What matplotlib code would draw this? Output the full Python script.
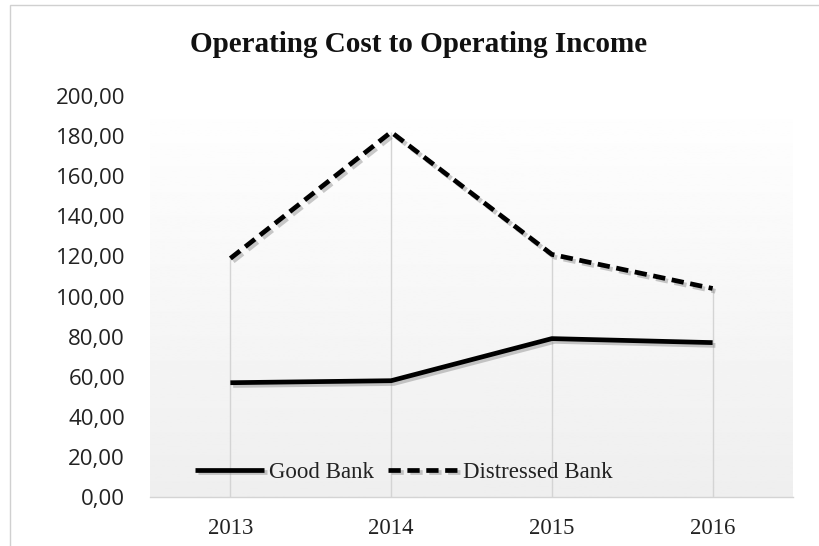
import numpy as np
import matplotlib
matplotlib.use('Agg')
import matplotlib.pyplot as plt
import matplotlib.patheffects as pe
from matplotlib.patches import Rectangle

# values
years = ['2013', '2014', '2015', '2016']
good_bank = [57.0, 58.0, 79.0, 77.0]
distressed_bank = [119.0, 182.0, 121.0, 104.0]
yticks = [0, 20, 40, 60, 80, 100, 120, 140, 160, 180, 200]

fig = plt.figure(figsize=(8.19, 5.46), dpi=100)
ax = fig.add_axes([150/819, 1-497/546, 643/819, 401/546])

x = np.arange(len(years))

# light grey gradient in the plot area
grad = np.linspace(1.0, 0.935, 256).reshape(-1, 1)
ax.imshow(grad, extent=(-0.5, 3.5, 0, 200), cmap='gray', vmin=0, vmax=1,
          aspect='auto', origin='upper', zorder=0)

# drop lines
tops = np.maximum(good_bank, distressed_bank)
ax.vlines(x, 0, tops, color='#d4d4d4', lw=1, zorder=1)

shadow = [pe.SimpleLineShadow(offset=(2, -2), shadow_color='#888888', alpha=0.45),
          pe.Normal()]
ax.plot(x, good_bank, color='black', lw=3.4, label='Good Bank',
        solid_capstyle='butt', path_effects=shadow, zorder=3)
ax.plot(x, distressed_bank, color='black', lw=3.4, dashes=(2.6, 1.4),
        label='Distressed Bank', path_effects=shadow, zorder=3)

ax.set_xlim(-0.5, 3.5)
ax.set_ylim(0, 200)
ax.set_xticks(x)
ax.set_xticklabels(years, family='Liberation Serif', fontsize=16.5, color='#222222')
ax.set_yticks(yticks)
ax.set_yticklabels(['%d,00' % v for v in yticks], family='Open Sans',
                   fontsize=16, color='#222222')
ax.tick_params(length=0)
ax.tick_params(axis='y', pad=18)
ax.tick_params(axis='x', pad=15)
for s in ['left', 'right', 'top']:
    ax.spines[s].set_visible(False)
ax.spines['bottom'].set_color('#d4d4d4')
ax.spines['bottom'].set_linewidth(1)

leg = ax.legend(loc='center left', bbox_to_anchor=(0.07, 0.062), ncol=2,
                frameon=False, borderaxespad=0, borderpad=0, handlelength=3.0,
                handletextpad=0.25, columnspacing=0.6,
                prop={'family': 'Liberation Serif', 'size': 16.5})
for t in leg.get_texts():
    t.set_color('#222222')

fig.text(419/819, 1-45/546, 'Operating Cost to Operating Income',
         ha='center', va='center', family='Liberation Serif',
         fontweight='bold', fontsize=21, color='#111111')

# chart border
fig.patches.append(Rectangle((10/819, -0.1), 1.2, 1 - 5/546 + 0.1,
                             transform=fig.transFigure, fill=False,
                             edgecolor='#d0d0d0', lw=1))

fig.savefig('out.png', dpi=100)
